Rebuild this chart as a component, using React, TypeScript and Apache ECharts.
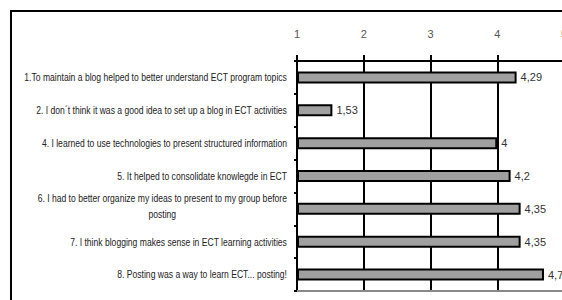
import React, { useEffect, useRef } from "react";
import * as echarts from "echarts";

const categories: string[] = [
  "1.To maintain a blog helped to better understand ECT program topics",
  "2. I don´t think it was a good idea to set up a blog in ECT activities",
  "4. I learned to use technologies to present structured information",
  "5. It helped to consolidate knowlegde in ECT",
  "6. I had to better organize my ideas to present to my group before\nposting",
  "7. I think blogging makes sense in ECT learning activities",
  "8. Posting was a way to learn ECT... posting!",
];
const values: number[] = [4.29, 1.53, 4, 4.2, 4.35, 4.35, 4.7];
const axisMin = 1;
const axisMax = 5;

const FONT = "'Liberation Sans', Arial, sans-serif";
const NARROW = 0.78;

export default function App() {
  const ref = useRef<HTMLDivElement>(null);
  useEffect(() => {
    if (!ref.current) return;
    const chart = echarts.init(ref.current, null, { renderer: "svg" });
    const gridLeft = 297;
    chart.setOption({
      animation: false,
      backgroundColor: "#ffffff",
      grid: {
        left: gridLeft,
        top: 61,
        width: 267,
        height: 230,
        containLabel: false,
        outerBoundsMode: "none",
      },
      xAxis: [
        {
          type: "value",
          position: "top",
          min: axisMin,
          max: axisMax,
          interval: 1,
          startValue: axisMin,
          axisLine: { show: true, lineStyle: { color: "#000", width: 2 } },
          axisTick: { show: true, length: 6, inside: false, lineStyle: { color: "#000", width: 2 } },
          axisLabel: { margin: 22, fontSize: 11, color: "#555", fontFamily: FONT },
          splitLine: { show: true, lineStyle: { color: "#000", width: 2 } },
        },
        {
          type: "value",
          position: "bottom",
          min: axisMin,
          max: axisMax,
          interval: 1,
          axisLine: { show: true, lineStyle: { color: "#888", width: 2 } },
          axisTick: { show: false },
          axisLabel: { show: false },
          splitLine: { show: false },
        },
      ],
      yAxis: {
        type: "category",
        inverse: true,
        data: categories,
        axisLine: { show: true, lineStyle: { color: "#000", width: 2 } },
        axisTick: { show: true, length: 3, lineStyle: { color: "#000", width: 2 } },
        axisLabel: { show: false },
      },
      series: [
        {
          type: "bar",
          data: values,
          barWidth: 12,
          clip: true,
          itemStyle: { color: "#a0a0a0", borderColor: "#000", borderWidth: 2 },
          label: {
            show: true,
            position: "right",
            distance: 4,
            fontSize: 11,
            color: "#333",
            fontFamily: FONT,
            formatter: (p: any) => String(p.value).replace(".", ","),
          },
        },
      ],
    });

    const labelTexts = categories.map((c, i) => {
      const y = chart.convertToPixel({ yAxisIndex: 0 }, i) as number;
      const lines = c.split("\n");
      return {
        type: "text",
        x: gridLeft - 10,
        y: lines.length > 1 ? y - 3 : y,
        scaleX: NARROW,
        style: {
          text: lines.map((l) => `{c|${l}}`).join("\n"),
          align: "right",
          verticalAlign: "middle",
          rich: {
            c: { align: "center", fontSize: 11, fill: "#222", fontFamily: FONT, lineHeight: 16 },
          },
        },
      };
    });

    chart.setOption({
      graphic: [
        {
          type: "rect",
          shape: { x: 11, y: 11, width: 700, height: 400 },
          style: { fill: "none", stroke: "#000", lineWidth: 2 },
          z: 100,
        },
        ...labelTexts,
      ],
    });
    return () => chart.dispose();
  }, []);
  return (
    <div
      ref={ref}
      style={{ position: "absolute", left: 0, top: 0, width: 562, height: 300 }}
    />
  );
}
